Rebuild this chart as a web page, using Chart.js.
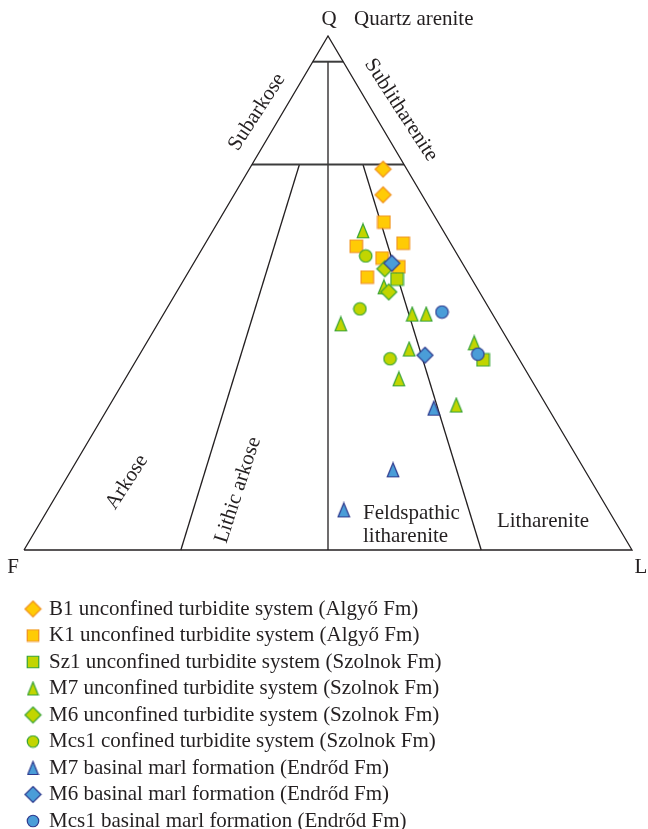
<!DOCTYPE html>
<html><head><meta charset="utf-8">
<script src="https://cdn.jsdelivr.net/npm/chart.js@4/dist/chart.umd.min.js"></script>
<style>html,body{margin:0;padding:0;background:#fff;overflow:hidden}canvas{display:block}</style>
</head><body>
<canvas id="c" width="648" height="829"></canvas>
<script>
// ---- Data: ternary compositions [Q, F, L] in percent ----
const seriesLabels = [
  'B1 unconfined turbidite system (Algyő Fm)',
  'K1 unconfined turbidite system (Algyő Fm)',
  'Sz1 unconfined turbidite system (Szolnok Fm)',
  'M7 unconfined turbidite system (Szolnok Fm)',
  'M6 unconfined turbidite system (Szolnok Fm)',
  'Mcs1 confined turbidite system (Szolnok Fm)',
  'M7 basinal marl formation (Endrőd Fm)',
  'M6 basinal marl formation (Endrőd Fm)',
  'Mcs1 basinal marl formation (Endrőd Fm)'
];
const B1_unconfined = [[74.1,3.9,22.0],[69.1,6.4,24.5]];
const K1_unconfined = [[63.8,8.9,27.3],[59.7,7.8,32.5],[59.1,15.8,25.1],[56.8,12.7,30.5],[55.1,10.8,34.1],[53.1,17.0,29.9]];
const Sz1_unconfined = [[52.7,12.3,35.0],[37.0,6.0,57.0]];
const M7_unconfined = [[62.1,13.2,24.7],[51.2,15.2,33.6],[44.0,25.9,30.1],[45.9,13.2,40.9],[45.9,10.9,43.2],[39.1,17.1,43.8],[33.3,21.7,45.0],[40.3,5.8,53.9],[28.2,14.8,57.0]];
const M6_unconfined = [[54.7,13.3,32.0],[50.2,14.9,34.9]];
const Mcs1_confined = [[57.2,15.2,27.6],[46.9,21.3,31.8],[37.2,21.2,41.6]];
const M7_basinal = [[27.6,18.8,53.6],[15.6,31.5,52.9],[7.8,43.5,48.7]];
const M6_basinal = [[55.8,11.6,32.6],[37.9,15.1,47.0]];
const Mcs1_basinal = [[46.3,8.1,45.6],[38.1,6.3,55.6]];

// ---- Classification field boundaries (Folk), [Q, F, L] ----
const outline = [[0,100,0],[100,0,0],[0,0,100],[0,100,0]];
const q95Line = [[95,5,0],[95,0,5]];
const q75Line = [[75,25,0],[75,0,25]];
const midLine = [[95,2.5,2.5],[0,50,50]];
const leftLine = [[75,17.2,7.8],[0,74.2,25.8]];
const rightLine = [[75,6.75,18.25],[0,24.8,75.2]];

const toXY = p => ({x: (p[2] + p[0] / 2) / 100, y: p[0] / 100});

const ORANGE = {fill:'#FFCB05', stroke:'#F0901E'};
const GREEN = {fill:'#C2D500', stroke:'#36A335'};
const BLUE = {fill:'#4A9DD8', stroke:'#2E3A8E'};

function makeMarker(shape, col, w, h) {
  const c = document.createElement('canvas');
  c.width = w + 3; c.height = h + 3;
  const g = c.getContext('2d');
  g.fillStyle = col.fill; g.strokeStyle = col.stroke; g.lineWidth = 1.2;
  const cx = c.width / 2, cy = c.height / 2;
  g.beginPath();
  if (shape === 'diamond') {
    g.moveTo(cx, cy - h/2); g.lineTo(cx + w/2, cy); g.lineTo(cx, cy + h/2); g.lineTo(cx - w/2, cy); g.closePath();
  } else if (shape === 'square') {
    g.rect(cx - w/2, cy - h/2, w, h);
  } else if (shape === 'triangle') {
    g.moveTo(cx, cy - h/2); g.lineTo(cx + w/2, cy + h/2); g.lineTo(cx - w/2, cy + h/2); g.closePath();
  } else {
    g.arc(cx, cy, w/2, 0, Math.PI * 2);
  }
  g.fill(); g.stroke();
  return c;
}
const SIZES = {diamond:[16,16], square:[12.5,12.5], triangle:[11.5,14], circle:[12.5,12.5]};
const LSIZES = {diamond:[16,16], square:[11.5,11.5], triangle:[10.5,13], circle:[11.5,11.5]};
const seriesDefs = [
  [B1_unconfined, 'diamond', ORANGE],
  [K1_unconfined, 'square', ORANGE],
  [Sz1_unconfined, 'square', GREEN],
  [M7_unconfined, 'triangle', GREEN],
  [M6_unconfined, 'diamond', GREEN],
  [Mcs1_confined, 'circle', GREEN],
  [M7_basinal, 'triangle', BLUE],
  [M6_basinal, 'diamond', BLUE],
  [Mcs1_basinal, 'circle', BLUE]
];

const datasets = [];
function lineDs(pts, color, width) {
  datasets.push({type:'scatter', data: pts.map(toXY), showLine:true, borderColor:color, borderWidth:width,
    pointRadius:0, fill:false, tension:0, order:100});
}
lineDs(outline, '#231F20', 1.3);
lineDs(q95Line, '#3C3C3C', 2);
lineDs(q75Line, '#3C3C3C', 2);
lineDs(midLine, '#231F20', 1.3);
lineDs(leftLine, '#231F20', 1.3);
lineDs(rightLine, '#231F20', 1.3);
seriesDefs.forEach((d, i) => {
  const s = SIZES[d[1]];
  datasets.push({type:'scatter', label: seriesLabels[i], data: d[0].map(toXY),
    pointStyle: makeMarker(d[1], d[2], s[0], s[1]), order: 50 - i});
});

const F = "'Liberation Serif', 'DejaVu Serif', serif";
const textPlugin = {
  id: 'texts',
  afterDraw(chart) {
    const ctx = chart.ctx;
    ctx.save();
    ctx.fillStyle = '#231F20';
    ctx.textBaseline = 'middle';
    const put = (t, x, y, size, align, rot) => {
      ctx.save();
      ctx.font = size + 'px ' + F;
      ctx.textAlign = align;
      ctx.translate(x, y);
      if (rot) ctx.rotate(rot * Math.PI / 180);
      ctx.fillText(t, 0, 0);
      ctx.restore();
    };
    const S = 21;
    put('Q', 329, 19, S, 'center');
    put('Quartz arenite', 354, 19, S, 'left');
    put('F', 13, 567, S, 'center');
    put('L', 641, 567, S, 'center');
    put('Subarkose', 257, 112, S, 'center', -57);
    put('Sublitharenite', 401, 110, S, 'center', 57);
    put('Arkose', 127, 482, S, 'center', -57);
    put('Lithic arkose', 238, 490, S, 'center', -72);
    put('Feldspathic', 363, 513, S, 'left');
    put('litharenite', 363, 536, S, 'left');
    put('Litharenite', 543, 521, S, 'center');
    // legend
    seriesDefs.forEach((d, i) => {
      const y = 609 + i * 26.5;
      const s = LSIZES[d[1]];
      const m = makeMarker(d[1], d[2], s[0], s[1]);
      ctx.drawImage(m, 33 - m.width / 2, y - m.height / 2);
      put(seriesLabels[i], 49, y, S, 'left');
    });
    ctx.restore();
  }
};

new Chart(document.getElementById('c'), {
  type: 'scatter',
  data: { datasets },
  options: {
    responsive: false,
    animation: false,
    devicePixelRatio: 1,
    layout: { padding: { left: 24, right: 16, top: 36, bottom: 279 } },
    scales: {
      x: { type: 'linear', min: 0, max: 1, display: false },
      y: { type: 'linear', min: 0, max: 1, display: false }
    },
    plugins: { legend: { display: false }, tooltip: { enabled: false } },
    clip: false
  },
  plugins: [textPlugin]
});
</script>
</body></html>
